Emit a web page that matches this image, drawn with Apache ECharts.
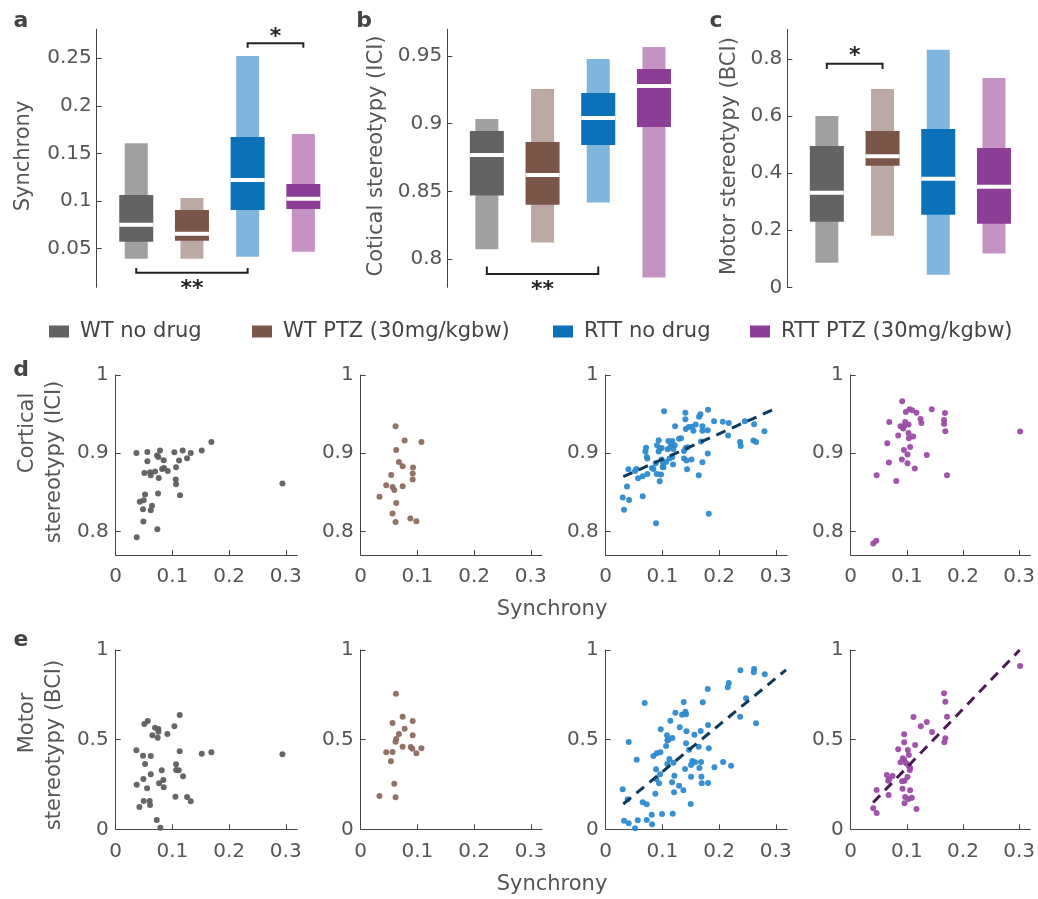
<!doctype html>
<html>
<head>
    <meta charset="utf-8">
    <title>synchrony and stereotypy</title>
    <style type="text/css">
        body, html { width: 100%; height: 100%; margin: 0; padding: 0; background: #fff; }
    </style>
    <script src="https://cdn.jsdelivr.net/npm/echarts@6.0.0/dist/echarts.min.js"></script>
</head>
<body>
<div id="container" style="width: 1038px; height: 899px"></div>
<script type="text/javascript">
    // groups
    const groups = ['WT no drug', 'WT PTZ (30mg/kgbw)', 'RTT no drug', 'RTT PTZ (30mg/kgbw)'];

    // panel a-c: [low, high] range, [q1, q3] box, median
    const synchRange = [[0.039, 0.1605], [0.039, 0.103], [0.0412, 0.2525], [0.0465, 0.1703]];
    const synchBox = [[0.057, 0.1061], [0.058, 0.0903], [0.0903, 0.1672], [0.0914, 0.1177]];
    const synchMedian = [0.0748, 0.0653, 0.122, 0.1021];

    const iciRange = [[0.8074, 0.9035], [0.8123, 0.9257], [0.8418, 0.9478], [0.7865, 0.9566]];
    const iciBox = [[0.847, 0.8947], [0.8403, 0.8866], [0.8843, 0.9227], [0.8976, 0.9404]];
    const iciMedian = [0.877, 0.8622, 0.9043, 0.9279];

    const bciRange = [[0.086, 0.600], [0.181, 0.695], [0.044, 0.832], [0.118, 0.733]];
    const bciBox = [[0.23, 0.495], [0.426, 0.548], [0.254, 0.555], [0.223, 0.488]];
    const bciMedian = [0.331, 0.459, 0.380, 0.352];

    // significance brackets: [group from, group to, line y, tip y, star y]
    const sigSynch = [[1, 3, 0.0243, 0.0293, 0.0114], [3, 4, 0.2658, 0.2612, 0.2767]];
    const sigSynchText = ['**', '*'];
    const sigIci = [[1, 3, 0.7892, 0.7946, 0.7803]];
    const sigIciText = ['**'];
    const sigBci = [[1, 2, 0.7835, 0.765, 0.824]];
    const sigBciText = ['*'];

    // panel d: synchrony vs cortical stereotypy (ICI)
    const iciWT = [[0.0365,0.9004],[0.0559,0.9017],[0.0782,0.9034],[0.1035,0.9013],[0.1182,0.9034],[0.1324,0.9004],[0.1518,0.9034],[0.1688,0.9145],[0.0729,0.897],[0.0753,0.8953],[0.0847,0.8911],[0.1118,0.8906],[0.1259,0.8936],[0.0559,0.8898],[0.0506,0.8749],[0.0606,0.8757],[0.0618,0.8719],[0.0694,0.8766],[0.0759,0.8685],[0.0818,0.88],[0.0853,0.8813],[0.0918,0.8774],[0.1065,0.8821],[0.1059,0.8664],[0.1065,0.8604],[0.1135,0.8464],[0.0747,0.8485],[0.0518,0.8472],[0.0424,0.8379],[0.0494,0.84],[0.0482,0.8285],[0.0618,0.8272],[0.0641,0.8328],[0.0488,0.8128],[0.0735,0.803],[0.0371,0.7928],[0.2941,0.8613]];
    const iciWTptz = [[0.0615,0.9345],[0.0775,0.9162],[0.1071,0.9145],[0.0627,0.9043],[0.0675,0.8889],[0.074,0.8834],[0.0923,0.8817],[0.0538,0.8723],[0.0917,0.874],[0.0917,0.8664],[0.045,0.8591],[0.0562,0.857],[0.0592,0.8532],[0.074,0.8579],[0.0331,0.8443],[0.0627,0.8366],[0.0562,0.823],[0.0876,0.8166],[0.0982,0.8132],[0.0615,0.8123]];
    const iciRTT = [[0.1806,0.9557],[0.1406,0.9519],[0.1029,0.9536],[0.1671,0.9498],[0.1647,0.9468],[0.1406,0.9434],[0.1912,0.9409],[0.2065,0.9404],[0.2171,0.9387],[0.1588,0.9366],[0.1524,0.934],[0.1465,0.9336],[0.1412,0.9311],[0.1706,0.9345],[0.18,0.9294],[0.1706,0.9289],[0.1547,0.9289],[0.1224,0.9345],[0.2453,0.9409],[0.2618,0.937],[0.28,0.9281],[0.2159,0.9226],[0.1294,0.9187],[0.1329,0.9191],[0.1106,0.9157],[0.1176,0.9157],[0.0935,0.9166],[0.2606,0.9162],[0.2653,0.9145],[0.2371,0.9145],[0.2382,0.9094],[0.1682,0.9149],[0.1153,0.9123],[0.1218,0.9102],[0.1141,0.9077],[0.1194,0.9055],[0.1094,0.9051],[0.0988,0.9068],[0.0906,0.9102],[0.0953,0.906],[0.0712,0.9072],[0.0935,0.9021],[0.07,0.9021],[0.1441,0.9077],[0.1412,0.9068],[0.1382,0.903],[0.0724,0.8953],[0.0735,0.8932],[0.18,0.8996],[0.1382,0.8932],[0.1424,0.8906],[0.1512,0.8919],[0.1706,0.8885],[0.1176,0.8953],[0.1124,0.8932],[0.1065,0.8889],[0.0988,0.8919],[0.1012,0.8881],[0.0882,0.8872],[0.0818,0.8813],[0.0841,0.88],[0.1188,0.8855],[0.1006,0.8826],[0.1018,0.8821],[0.04,0.8796],[0.0541,0.88],[0.0518,0.8774],[0.0735,0.8736],[0.0653,0.8706],[0.09,0.8736],[0.0976,0.8728],[0.1435,0.8796],[0.1641,0.8719],[0.0571,0.8681],[0.0953,0.8643],[0.0376,0.8574],[0.03,0.8434],[0.0412,0.8404],[0.0653,0.8451],[0.0324,0.8277],[0.1818,0.8226],[0.0888,0.8106]];
    const iciRTTptz = [[0.0917,0.9664],[0.1444,0.9562],[0.1047,0.9562],[0.1095,0.9549],[0.0982,0.9528],[0.1172,0.9519],[0.168,0.9515],[0.1243,0.9438],[0.1663,0.9426],[0.126,0.9387],[0.1663,0.9374],[0.0686,0.94],[0.097,0.94],[0.0888,0.9345],[0.0953,0.9349],[0.103,0.9366],[0.0935,0.9315],[0.1686,0.9281],[0.103,0.926],[0.0846,0.9226],[0.1112,0.9213],[0.1036,0.9191],[0.0651,0.9128],[0.1059,0.9081],[0.0947,0.9043],[0.1012,0.8983],[0.1355,0.8979],[0.0911,0.8919],[0.068,0.8881],[0.1012,0.8872],[0.1142,0.8804],[0.0462,0.8719],[0.1716,0.8719],[0.0811,0.8647],[0.0456,0.7881],[0.0402,0.7847],[0.3018,0.9277]];
    const iciRTTfit = [[0.031, 0.870], [0.299, 0.957]];

    // panel e: synchrony vs motor stereotypy (BCI)
    const bciWT = [[0.1129,0.6375],[0.0565,0.6041],[0.0506,0.5874],[0.0694,0.5669],[0.0753,0.5595],[0.0753,0.5446],[0.1035,0.5743],[0.0912,0.5316],[0.0647,0.5242],[0.0741,0.5112],[0.0365,0.4405],[0.1129,0.4349],[0.0482,0.4108],[0.0618,0.4089],[0.1518,0.4219],[0.1688,0.4294],[0.2941,0.4182],[0.0518,0.3643],[0.1065,0.3625],[0.1065,0.3309],[0.1112,0.329],[0.0812,0.329],[0.1188,0.2955],[0.0488,0.2807],[0.0618,0.3067],[0.0841,0.2751],[0.0765,0.2565],[0.0371,0.2491],[0.0553,0.2286],[0.0847,0.2342],[0.1053,0.1822],[0.1259,0.1803],[0.1324,0.1561],[0.0494,0.158],[0.06,0.158],[0.0606,0.1357],[0.0418,0.1245],[0.0724,0.052],[0.0788,0.0093]];
    const bciWTptz = [[0.0621,0.7565],[0.074,0.6283],[0.0917,0.6041],[0.0562,0.5929],[0.0775,0.5613],[0.0675,0.5316],[0.0917,0.5242],[0.0627,0.5037],[0.0615,0.4888],[0.074,0.461],[0.0882,0.4591],[0.0911,0.4498],[0.1071,0.4517],[0.045,0.4294],[0.0562,0.4312],[0.0982,0.4238],[0.0533,0.3792],[0.0592,0.2546],[0.0331,0.1859],[0.0615,0.1784]];
    const bciRTT = [[0.2376,0.8866],[0.2618,0.894],[0.2612,0.8755],[0.2806,0.8643],[0.2171,0.816],[0.2153,0.7918],[0.18,0.7825],[0.2476,0.7305],[0.0688,0.7045],[0.1376,0.71],[0.1712,0.7082],[0.1229,0.6506],[0.1406,0.6561],[0.1418,0.6413],[0.1347,0.6394],[0.1141,0.6059],[0.2371,0.6283],[0.2653,0.5911],[0.1306,0.5688],[0.1806,0.5818],[0.0971,0.5576],[0.1424,0.5465],[0.1676,0.5483],[0.1082,0.5242],[0.1176,0.5093],[0.1106,0.5],[0.1065,0.4647],[0.1565,0.5279],[0.1418,0.4796],[0.1471,0.4442],[0.1641,0.461],[0.1818,0.4517],[0.0406,0.487],[0.1088,0.4963],[0.0965,0.4294],[0.09,0.4238],[0.0841,0.4089],[0.1124,0.3922],[0.1088,0.3643],[0.1194,0.3717],[0.0547,0.3885],[0.1529,0.381],[0.1576,0.3736],[0.1682,0.3755],[0.1506,0.3587],[0.14,0.3364],[0.1653,0.342],[0.1918,0.3457],[0.2071,0.3755],[0.2212,0.355],[0.0888,0.3346],[0.0959,0.3067],[0.0894,0.2807],[0.0941,0.2565],[0.1212,0.2993],[0.1171,0.2621],[0.1506,0.2937],[0.1688,0.2937],[0.1694,0.2565],[0.1806,0.2584],[0.1294,0.2435],[0.1371,0.2175],[0.1206,0.2063],[0.0876,0.1989],[0.03,0.223],[0.0388,0.1673],[0.0653,0.1506],[0.0724,0.1394],[0.15,0.1413],[0.0994,0.0855],[0.1182,0.0874],[0.0812,0.0818],[0.0324,0.0483],[0.0406,0.0335],[0.0565,0.0502],[0.0724,0.052],[0.0818,0.0279],[0.0518,0.0056]];
    const bciRTTptz = [[0.3018,0.9108],[0.1663,0.7584],[0.1686,0.7119],[0.1716,0.6283],[0.1118,0.6264],[0.1355,0.5985],[0.1249,0.5743],[0.145,0.5428],[0.1686,0.5074],[0.1669,0.4851],[0.0953,0.5297],[0.0953,0.4851],[0.0846,0.4461],[0.1148,0.4703],[0.1018,0.4424],[0.1036,0.4145],[0.0953,0.3885],[0.0888,0.3736],[0.0988,0.368],[0.1036,0.3532],[0.1059,0.342],[0.1053,0.3309],[0.0929,0.3959],[0.0645,0.303],[0.0686,0.2788],[0.0746,0.2974],[0.1012,0.2918],[0.0959,0.2714],[0.0917,0.2677],[0.0669,0.2714],[0.0462,0.2193],[0.0675,0.1914],[0.0923,0.2268],[0.1059,0.2175],[0.097,0.1803],[0.1089,0.1766],[0.103,0.1691],[0.0959,0.145],[0.1172,0.1134],[0.0402,0.1171],[0.0462,0.0911]];
    const bciRTTfit = [[0.031, 0.141], [0.318, 0.889]];
    const bciRTTptzFit = [[0.040, 0.149], [0.301, 1.0]];

    // tick labels
    const synchTicks = [0.05, 0.1, 0.15, 0.2, 0.25];
    const iciTicks = [0.8, 0.85, 0.9, 0.95];
    const bciTicks = [0, 0.2, 0.4, 0.6, 0.8];
    const scatterXTicks = [0, 0.1, 0.2, 0.3];
    const scatterIciTicks = [0.8, 0.9, 1];
    const scatterBciTicks = [0, 0.5, 1];

    const FONT = 'DejaVu Sans';
    const TXT = '#555555';
    const AX = '#444444';
    const darkCol = ['#636363', '#7a5548', '#0b72b9', '#8c3d96'];
    const lightCol = ['#a0a0a0', '#bca9a3', '#80b6de', '#c592c3'];
    const dotCol = ['#5e5e5e', '#8c6b60', '#2d8ace', '#9b4ca6'];

    const dom = document.getElementById('container');
    const myChart = echarts.init(dom, null, {renderer: 'canvas'});

    function boxRender(light, dark) {
        return function (params, api) {
            const x = api.value(0);
            const lo = api.coord([x, api.value(1)]);
            const hi = api.coord([x, api.value(2)]);
            const q1 = api.coord([x, api.value(3)]);
            const q3 = api.coord([x, api.value(4)]);
            const md = api.coord([x, api.value(5)]);
            const cx = lo[0];
            return {
                type: 'group',
                children: [
                    {type: 'rect', shape: {x: cx - 11.5, y: hi[1], width: 23, height: lo[1] - hi[1]}, style: {fill: light}},
                    {type: 'rect', shape: {x: cx - 17, y: q3[1], width: 34, height: q1[1] - q3[1]}, style: {fill: dark}},
                    {type: 'rect', shape: {x: cx - 17, y: md[1] - 2, width: 34, height: 4}, style: {fill: '#ffffff'}}
                ]
            };
        };
    }

    function sigRender(texts) {
        return function (params, api) {
            const a = api.coord([api.value(0), api.value(2)]);
            const b = api.coord([api.value(1), api.value(2)]);
            const ta = api.coord([api.value(0), api.value(3)]);
            const s = api.coord([(api.value(0) + api.value(1)) / 2, api.value(4)]);
            return {
                type: 'group',
                children: [
                    {type: 'polyline', shape: {points: [[a[0], ta[1]], a, b, [b[0], ta[1]]]},
                        style: {stroke: '#222222', lineWidth: 2, fill: null}},
                    {type: 'text', style: {text: texts[params.dataIndex], x: s[0], y: s[1] + 4,
                        font: 'bold 22px ' + FONT, fill: '#222222', align: 'center', verticalAlign: 'middle',
                        textAlign: 'center', textVerticalAlign: 'middle'}}
                ]
            };
        };
    }

    const topGrids = [
        {left: 96.7, top: 29.3, width: 234.5, height: 258},
        {left: 447.3, top: 29.3, width: 234.5, height: 258},
        {left: 787.3, top: 29.3, width: 234.5, height: 258}
    ];
    const colLeft = [115.7, 360.7, 605.7, 850.7];
    const rowTop = [375, 650];
    const rowHeight = [180, 179.3];

    const grids = topGrids.slice();
    for (let r = 0; r < 2; r++) {
        for (let c = 0; c < 4; c++) {
            grids.push({left: colLeft[c], top: rowTop[r], width: 181.4, height: rowHeight[r]});
        }
    }

    const xAxes = [];
    const yAxes = [];
    const topLimits = [[0.009, 0.2805, synchTicks], [0.7793, 0.9697, iciTicks], [0, 0.904, bciTicks]];
    topLimits.forEach(function (lim, i) {
        xAxes.push({type: 'value', gridIndex: i, min: 0.29, max: 4.5, show: false});
        yAxes.push({
            type: 'value', gridIndex: i, min: lim[0], max: lim[1],
            axisLine: {show: true, lineStyle: {color: AX, width: 1}},
            axisTick: {show: true, inside: true, length: 5, customValues: lim[2], lineStyle: {color: AX}},
            axisLabel: {customValues: lim[2], color: TXT, fontFamily: FONT, fontSize: 20, margin: 5},
            splitLine: {show: false}
        });
    });
    for (let r = 0; r < 2; r++) {
        for (let c = 0; c < 4; c++) {
            const gi = 3 + r * 4 + c;
            const yt = r === 0 ? scatterIciTicks : scatterBciTicks;
            xAxes.push({
                type: 'value', gridIndex: gi, min: 0, max: 0.32,
                axisLine: {show: true, onZero: false, lineStyle: {color: AX, width: 1}},
                axisTick: {show: true, inside: true, length: 5, customValues: scatterXTicks, lineStyle: {color: AX}},
                axisLabel: {customValues: scatterXTicks, color: TXT, fontFamily: FONT, fontSize: 20, margin: 12},
                splitLine: {show: false}
            });
            yAxes.push({
                type: 'value', gridIndex: gi, min: r === 0 ? 0.77 : 0, max: 1,
                axisLine: {show: true, onZero: false, lineStyle: {color: AX, width: 1}},
                axisTick: {show: true, inside: true, length: 5, customValues: yt, lineStyle: {color: AX}},
                axisLabel: {customValues: yt, color: TXT, fontFamily: FONT, fontSize: 20, margin: 7},
                splitLine: {show: false}
            });
        }
    }

    const series = [];
    const topSets = [[synchRange, synchBox, synchMedian], [iciRange, iciBox, iciMedian], [bciRange, bciBox, bciMedian]];
    topSets.forEach(function (set, p) {
        groups.forEach(function (g, i) {
            series.push({
                type: 'custom', name: g, xAxisIndex: p, yAxisIndex: p,
                itemStyle: {color: darkCol[i]},
                renderItem: boxRender(lightCol[i], darkCol[i]),
                data: [[i + 1, set[0][i][0], set[0][i][1], set[1][i][0], set[1][i][1], set[2][i]]],
                silent: true
            });
        });
    });
    [[sigSynch, sigSynchText], [sigIci, sigIciText], [sigBci, sigBciText]].forEach(function (s, p) {
        series.push({type: 'custom', xAxisIndex: p, yAxisIndex: p, renderItem: sigRender(s[1]), data: s[0], silent: true});
    });

    const scatterSets = [[iciWT, iciWTptz, iciRTT, iciRTTptz], [bciWT, bciWTptz, bciRTT, bciRTTptz]];
    scatterSets.forEach(function (row, r) {
        row.forEach(function (pts, c) {
            const gi = 3 + r * 4 + c;
            series.push({
                type: 'scatter', xAxisIndex: gi, yAxisIndex: gi, data: pts,
                symbolSize: 6, itemStyle: {color: dotCol[c], opacity: 0.95}, silent: true
            });
        });
    });
    const fits = [[iciRTTfit, 5, '#0c3a5c'], [bciRTTfit, 9, '#0c3a5c'], [bciRTTptzFit, 10, '#4a1a52']];
    fits.forEach(function (f) {
        series.push({
            type: 'line', xAxisIndex: f[1], yAxisIndex: f[1], data: f[0], symbol: 'none', silent: true,
            lineStyle: {color: f[2], width: 3, type: [10, 7]}, z: 3
        });
    });

    const legendLefts = [44, 247, 548, 745];
    const legends = groups.map(function (g, i) {
        return {
            left: legendLefts[i], top: 316, data: [g], icon: 'rect', itemWidth: 20, itemHeight: 12,
            selectedMode: false,
            textStyle: {color: '#444444', fontFamily: FONT, fontSize: 21, padding: [0, 0, 0, 6]}
        };
    });

    function label(text, x, y, opts) {
        opts = opts || {};
        return {
            type: 'text', x: x, y: y, rotation: opts.rot || 0,
            style: {
                text: text, font: (opts.bold ? 'bold ' : '') + (opts.size || 21) + 'px ' + FONT,
                fill: opts.color || TXT,
                align: 'center', verticalAlign: 'middle', textAlign: 'center', textVerticalAlign: 'middle'
            }
        };
    }
    const R = Math.PI / 2;
    const graphics = [
        label('a', 21, 21, {bold: true, size: 22, color: '#444'}),
        label('b', 364, 21, {bold: true, size: 22, color: '#444'}),
        label('c', 716, 21, {bold: true, size: 22, color: '#444'}),
        label('d', 21, 370, {bold: true, size: 22, color: '#444'}),
        label('e', 21, 640, {bold: true, size: 22, color: '#444'}),
        label('Synchrony', 24, 156, {rot: R}),
        label('Cotical stereotypy (ICI)', 377, 156, {rot: R}),
        label('Motor stereotypy (BCI)', 730, 156, {rot: R}),
        label('Cortical', 28, 433, {rot: R}),
        label('stereotypy (ICI)', 55, 462, {rot: R}),
        label('Motor', 28, 723, {rot: R}),
        label('stereotypy (BCI)', 55, 745, {rot: R}),
        label('Synchrony', 552, 610),
        label('Synchrony', 552, 885)
    ];

    const option = {
        animation: false,
        backgroundColor: '#ffffff',
        legend: legends,
        grid: grids,
        xAxis: xAxes,
        yAxis: yAxes,
        series: series,
        graphic: graphics
    };
    myChart.setOption(option);
    window.addEventListener('resize', myChart.resize);
</script>
</body>
</html>
